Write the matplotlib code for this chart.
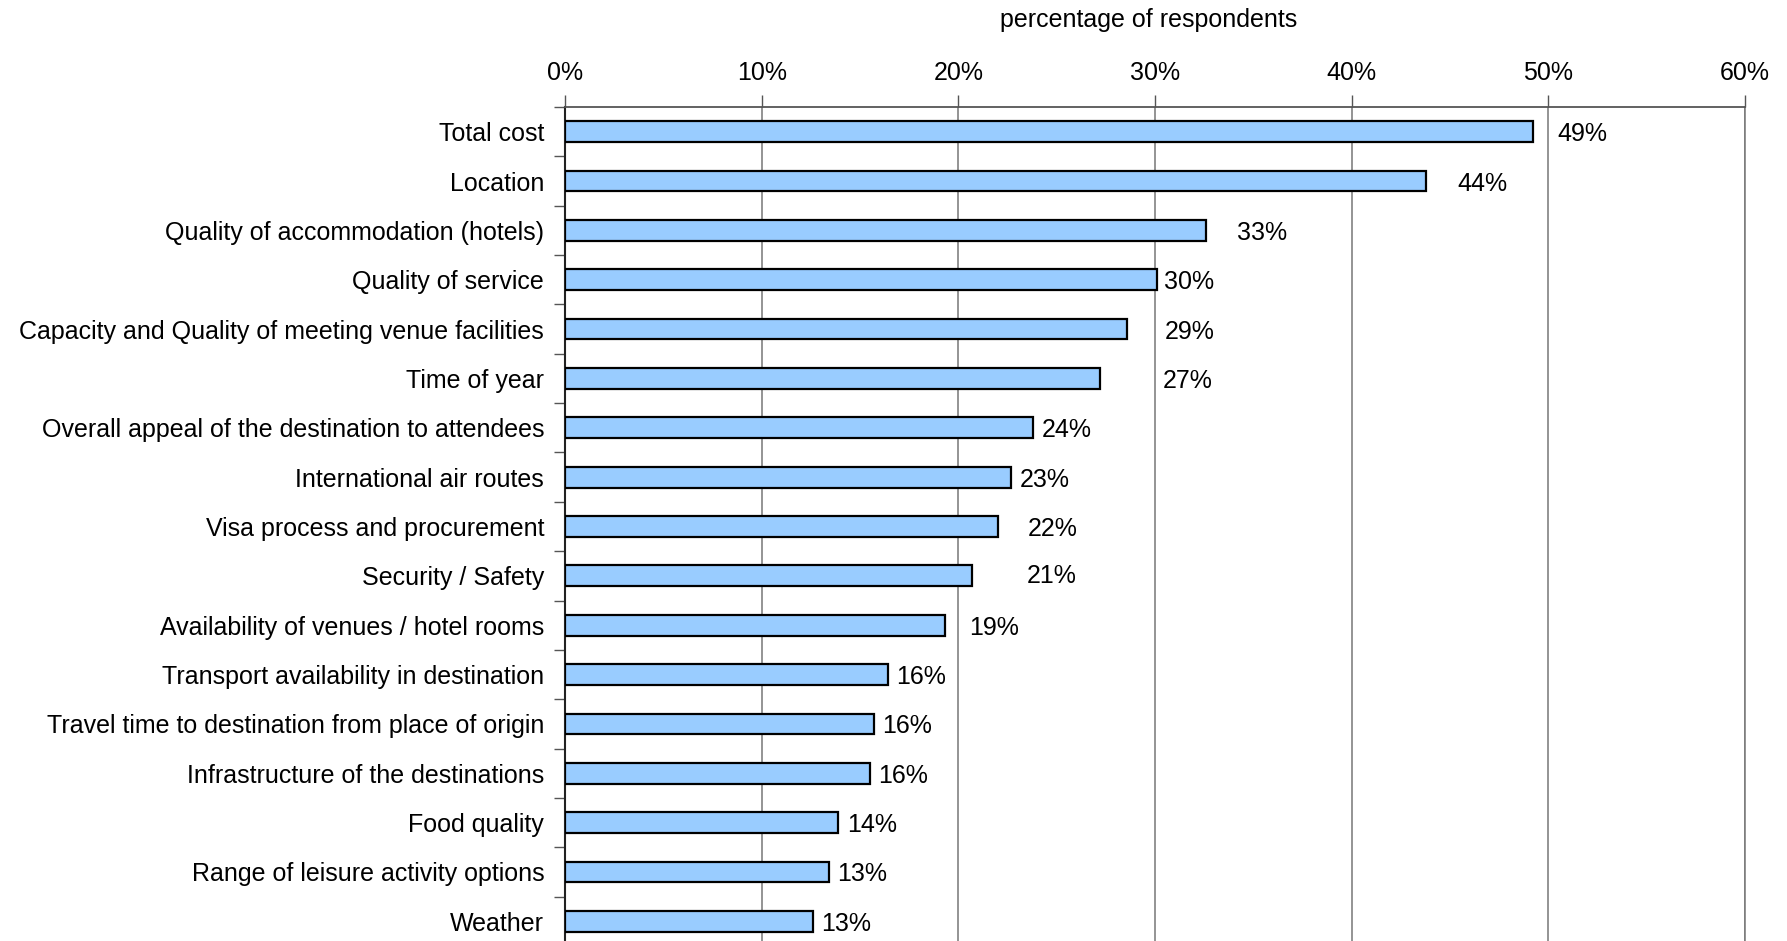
import matplotlib
matplotlib.use("Agg")
import matplotlib.pyplot as plt
import numpy as np

categories = [
    "Total cost",
    "Location",
    "Quality of accommodation (hotels)",
    "Quality of service",
    "Capacity and Quality of meeting venue facilities",
    "Time of year",
    "Overall appeal of the destination to attendees",
    "International air routes",
    "Visa process and procurement",
    "Security / Safety",
    "Availability of venues / hotel rooms",
    "Transport availability in destination",
    "Travel time to destination from place of origin",
    "Infrastructure of the destinations",
    "Food quality",
    "Range of leisure activity options",
    "Weather",
]
values = [49.2, 43.8, 32.6, 30.1, 28.6, 27.2, 23.8, 22.7, 22.0, 20.7,
          19.3, 16.4, 15.7, 15.5, 13.9, 13.4, 12.6]
value_labels = ["49%", "44%", "33%", "30%", "29%", "27%", "24%", "23%", "22%",
                "21%", "19%", "16%", "16%", "16%", "14%", "13%", "13%"]
x_ticks = [0, 10, 20, 30, 40, 50, 60]
x_tick_labels = ["0%", "10%", "20%", "30%", "40%", "50%", "60%"]
axis_title = "percentage of respondents"

# label placement offsets (points) to the right of each bar end, and vertical nudges
label_dx = [18, 22, 22, 5, 27, 45, 6, 6, 22, 39, 18, 6, 6, 6, 6, 6, 6]
label_dy = [0, 0, 0, 0, 0, 0, 0, 0, 0, 2, 0, 0, 0, 0, 0, 0, 0]

FS = 18

plt.rcParams['font.family'] = ['Liberation Sans', 'DejaVu Sans']

fig = plt.figure(figsize=(17.87, 9.41), dpi=100)
ax = fig.add_axes([565/1787, -5/941, (1745-565)/1787, (946-107)/941])

y = np.arange(len(categories))
ax.barh(y, values, height=0.42, color="#99CCFF", edgecolor="black", linewidth=1.6, zorder=3)

ax.set_xlim(0, 60)
ax.set_ylim(len(categories) - 0.5, -0.5)

ax.set_xticks(x_ticks)
ax.set_xticklabels(x_tick_labels, fontsize=FS)
ax.xaxis.tick_top()
ax.tick_params(axis='x', which='major', direction='out', length=9, width=1, color='#555555', pad=7)
ax.grid(axis='x', color='#777777', linewidth=1.1, zorder=0)

ax.set_yticks(y)
ax.set_yticklabels(categories, fontsize=FS)
ax.tick_params(axis='y', which='major', length=0, pad=15)
ax.set_yticks(np.arange(len(categories) + 1) - 0.5, minor=True)
ax.tick_params(axis='y', which='minor', direction='out', length=8, width=1, color='#555555')

ax.spines['bottom'].set_visible(False)
ax.spines['right'].set_color('#777777')
ax.spines['right'].set_linewidth(1.1)
ax.spines['top'].set_color('#555555')
ax.spines['top'].set_linewidth(1.3)
ax.spines['left'].set_color('#222222')
ax.spines['left'].set_linewidth(1.5)

for i, (v, lab) in enumerate(zip(values, value_labels)):
    ax.annotate(lab, xy=(v, i), xytext=(label_dx[i], label_dy[i]), textcoords='offset points',
                va='center_baseline', ha='left', fontsize=FS)

fig.text(1149/1787, 1 - 20/941, axis_title, ha='center', va='center', fontsize=FS)

fig.savefig("out.png", dpi=100)
